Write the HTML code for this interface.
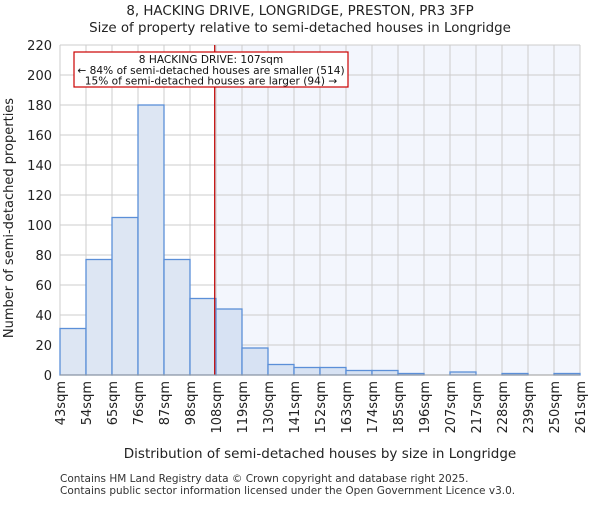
<!DOCTYPE html>
<html><head><meta charset="utf-8"><style>
body{margin:0;background:#fff;}
svg text{font-family:"DejaVu Sans","Liberation Sans",sans-serif;}
</style></head><body>
<svg id="c" width="600" height="500" xmlns="http://www.w3.org/2000/svg">
<text x="300" y="15" text-anchor="middle" font-size="13.4" fill="#222">8, HACKING DRIVE, LONGRIDGE, PRESTON, PR3 3FP</text>
<text x="300" y="32" text-anchor="middle" font-size="13.4" fill="#222">Size of property relative to semi-detached houses in Longridge</text>
<g id="plot"></g>
<text x="320" y="458" text-anchor="middle" font-size="13.5" fill="#222">Distribution of semi-detached houses by size in Longridge</text>
<text transform="translate(13,218) rotate(-90)" text-anchor="middle" font-size="13" fill="#222">Number of semi-detached properties</text>
<text x="60" y="482" font-size="10.5" fill="#333">Contains HM Land Registry data © Crown copyright and database right 2025.</text>
<text x="60" y="494" font-size="10.5" fill="#333">Contains public sector information licensed under the Open Government Licence v3.0.</text>
</svg>
<script>
const binLabels=["43sqm","54sqm","65sqm","76sqm","87sqm","98sqm","108sqm","119sqm","130sqm","141sqm","152sqm","163sqm","174sqm","185sqm","196sqm","207sqm","217sqm","228sqm","239sqm","250sqm","261sqm"];
const counts=[31,77,105,180,77,51,44,18,7,5,5,3,3,1,0,2,0,1,0,1];
const yTicks=[0,20,40,60,80,100,120,140,160,180,200,220];
const propertyIndex=5.95;
const NS="http://www.w3.org/2000/svg";
const g=document.getElementById('plot');
const X0=60,X1=580,Y0=375,Y1=45,YMAX=220;
const bw=(X1-X0)/counts.length;
const xs=i=>X0+i*bw;
const ys=v=>Y0-(v/YMAX)*(Y0-Y1);
function mk(t,a){const e=document.createElementNS(NS,t);for(const k in a)e.setAttribute(k,a[k]);g.appendChild(e);return e;}
const lx=xs(propertyIndex);
let e=mk('rect',{x:lx,y:Y1,width:X1-lx,height:Y0-Y1,fill:'#f3f6fd'});


yTicks.forEach(v=>{
 let l=mk('line',{x1:X0,x2:X1,y1:ys(v),y2:ys(v),stroke:'#cccccc','stroke-width':1});
 
 
 let t=mk('text',{x:X0-8,y:ys(v)+5,'text-anchor':'end','font-size':13,fill:'#222'});
 t.textContent=v;
 
 
});
binLabels.forEach((s,i)=>{
 let l=mk('line',{x1:xs(i),x2:xs(i),y1:Y1,y2:Y0,stroke:'#cccccc','stroke-width':1});
 
 
 let t=mk('text',{transform:`translate(${xs(i)+5},${Y0+6}) rotate(-90)`,'text-anchor':'end','font-size':13,fill:'#222'});
 t.textContent=s;
 
 
});
counts.forEach((v,i)=>{
 if(v<=0)return;
 let r=mk('rect',{x:xs(i),y:ys(v),width:bw,height:Y0-ys(v),fill:i<6?'#dde6f3':'#d7e2f3',stroke:'#5b8fd8','stroke-width':1.3});
 
 
});
e=mk('line',{x1:lx,x2:lx,y1:Y1,y2:Y0,stroke:'#c00000','stroke-width':1.2});


e=mk('rect',{x:74,y:52,width:274,height:35,fill:'#fff',stroke:'#cc0000','stroke-width':1.2});


["8 HACKING DRIVE: 107sqm","← 84% of semi-detached houses are smaller (514)","15% of semi-detached houses are larger (94) →"].forEach((s,i)=>{
 let t=mk('text',{x:211,y:63+i*10.8,'text-anchor':'middle','font-size':10.6,fill:'#111'});
 t.textContent=s;
 
 
});
e=mk('line',{x1:X0,x2:X1,y1:Y0,y2:Y0,stroke:'#999','stroke-width':1});


</script>
</body></html>
